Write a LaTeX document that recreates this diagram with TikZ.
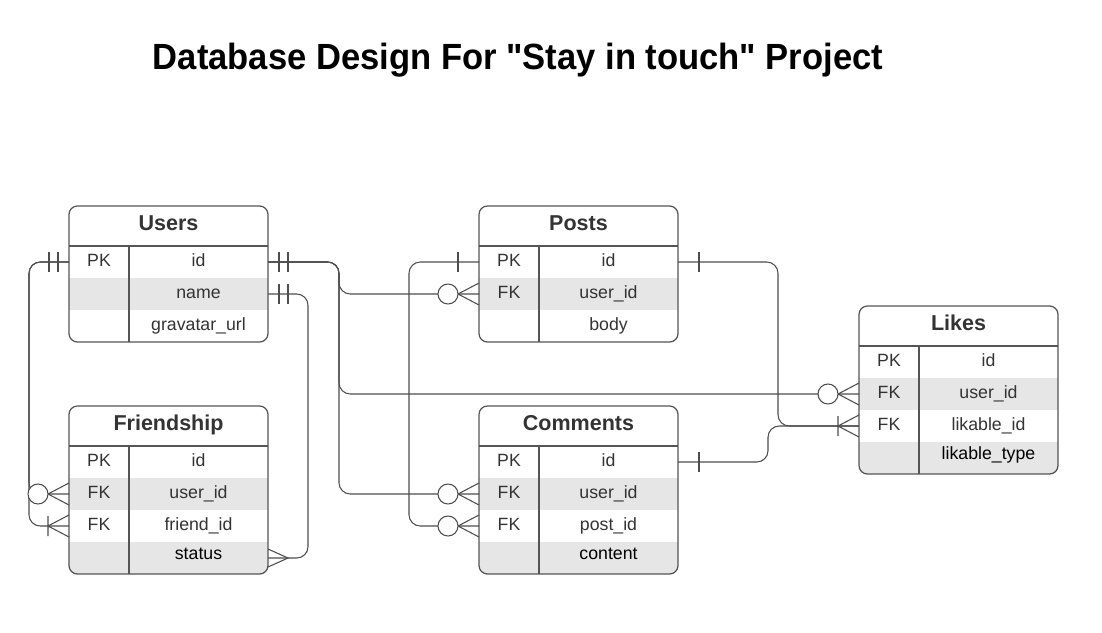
\documentclass[tikz,border=0pt]{standalone}
\usepackage{fontspec}
\setmainfont{Liberation Sans}[Ligatures=TeXOff]
\usepackage{graphicx}
\usepackage{xcolor}
\definecolor{tablegray}{HTML}{555555}
\definecolor{linegray}{HTML}{4D4D4D}
\definecolor{rowgray}{HTML}{E6E6E6}
\definecolor{textgray}{HTML}{333333}

\def\px{0.025cm} % one pixel of the drawing
\def\tablew{199} % width of a table
\def\keyw{60} % width of the key column
\def\headh{40} % height of the title row
\def\rowh{32} % height of a field row

\tikzset{
    tableline/.style={draw=tablegray, line width=0.9pt},
    link/.style={draw=linegray, line width=0.75pt, rounded corners=8},
    markline/.style={draw=linegray, line width=0.75pt},
    fieldrow/.style={inner sep=0pt, outer sep=0pt, minimum width={\tablew*\px}, minimum height={\rowh*\px}},
    keytext/.style={anchor=base, font=\fontsize{12.6}{14}\selectfont, text=textgray},
    fieldtext/.style={anchor=base, font=\fontsize{12.6}{14}\selectfont, text=textgray},
    lasttext/.style={anchor=base, font=\fontsize{12.6}{14}\selectfont, text=black},
    headtext/.style={anchor=base, font=\fontsize{15.3}{18}\selectfont\bfseries, text=textgray},
    onlyone/.pic={\draw[markline] (11,-10) -- (11,10) (20,-10) -- (20,10);},
    justone/.pic={\draw[markline] (21,-10) -- (21,10);},
    crowmany/.pic={\draw[markline] (0,-9) -- (20,0) -- (0,9);},
    onemany/.pic={\draw[markline] (0,-11) -- (21,0) -- (0,11) (21,-10) -- (21,10);},
    zeromany/.pic={\draw[markline] (0,-11) -- (21,0) -- (0,11); \draw[markline, fill=white] (31,0) circle (10);},
}

% #1 name, #2 left, #3 top, #4 title, #5 number of fields, #6 fields
\newcommand{\dbtable}[6]{%
    \pgfmathsetmacro{\tbot}{#3+\headh+#5*\rowh}
    \begin{scope}
        \clip[rounded corners=6] (#2,#3) rectangle (#2+\tablew,\tbot);
        \foreach \key/\field/\tag [count=\i] in {#6} {
            \pgfmathsetmacro{\rtop}{#3+\headh+(\i-1)*\rowh}
            \ifodd\i\relax\else
                \fill[rowgray] (#2,\rtop) rectangle (#2+\tablew,\rtop+\rowh);
            \fi
        }
    \end{scope}
    \foreach \key/\field/\tag [count=\i] in {#6} {
        \pgfmathsetmacro{\rtop}{#3+\headh+(\i-1)*\rowh}
        \node[fieldrow] (#1-\tag) at (#2+0.5*\tablew,\rtop+0.5*\rowh) {};
        \node[keytext] at (#2+0.5*\keyw,\rtop+20) {\key};
        \ifnum\i=4
            \node[lasttext] at (#2+0.5*\keyw+0.5*\tablew,\rtop+17) {\field};
        \else
            \node[fieldtext] at (#2+0.5*\keyw+0.5*\tablew,\rtop+20) {\field};
        \fi
    }
    \draw[tableline, rounded corners=6] (#2,#3) rectangle (#2+\tablew,\tbot);
    \draw[tableline] (#2,#3+\headh) -- (#2+\tablew,#3+\headh);
    \draw[tableline] (#2+\keyw,#3+\headh) -- (#2+\keyw,\tbot);
    \node[headtext] (#1) at (#2+0.5*\tablew,#3+24) {#4};
}

\begin{document}
\begin{tikzpicture}[x=\px, y=-\px]
    \fill[white] (0,0) rectangle (1102,632);
    \useasboundingbox (0,0) rectangle (1102,632);

    % Title
    \node[anchor=base] (title) at (518,69) {\resizebox{18.25cm}{0.66cm}{\bfseries Database Design For "Stay in touch" Project}};

    % Tables
    \dbtable{users}{69}{206}{Users}{3}{PK/id/id, /name/name, /gravatar\_url/gravatar}
    \dbtable{friendship}{69}{406}{Friendship}{4}{PK/id/id, FK/user\_id/userid, FK/friend\_id/friendid, /status/status}
    \dbtable{posts}{479}{206}{Posts}{3}{PK/id/id, FK/user\_id/userid, /body/body}
    \dbtable{comments}{479}{406}{Comments}{4}{PK/id/id, FK/user\_id/userid, FK/post\_id/postid, /content/content}
    \dbtable{likes}{859}{306}{Likes}{4}{PK/id/id, FK/user\_id/userid, FK/likable\_id/likableid, /likable\_type/likabletype}

    % Relations
    \draw[link] (users-id.west) -- ++(-40,0) |- (friendship-userid.west);
    \draw[link] (users-id.west) -- ++(-40,0) |- (friendship-friendid.west);
    \draw[link] (users-name.east) -- ++(40,0) |- (friendship-status.east);
    \foreach \target in {posts-userid, likes-userid, comments-userid}
        \draw[link] (users-id.east) -- ++(71,0) |- (\target.west);
    \draw[link] (posts-id.west) -- ++(-70,0) |- (comments-postid.west);
    \draw[link] (posts-id.east) -- ++(100,0) |- (likes-likableid.west);
    \draw[link] (comments-id.east) -- ++(90,0) |- (likes-likableid.west);

    % Ends of the relations
    \pic[rotate=180] at (users-id.west) {onlyone};
    \pic at (users-id.east) {onlyone};
    \pic at (users-name.east) {onlyone};
    \pic[rotate=180] at (friendship-userid.west) {zeromany};
    \pic[rotate=180] at (friendship-friendid.west) {onemany};
    \pic at (friendship-status.east) {crowmany};
    \pic[rotate=180] at (posts-id.west) {justone};
    \pic at (posts-id.east) {justone};
    \pic[rotate=180] at (posts-userid.west) {zeromany};
    \pic at (comments-id.east) {justone};
    \pic[rotate=180] at (comments-userid.west) {zeromany};
    \pic[rotate=180] at (comments-postid.west) {zeromany};
    \pic[rotate=180] at (likes-userid.west) {zeromany};
    \pic[rotate=180] at (likes-likableid.west) {onemany};
\end{tikzpicture}
\end{document}
